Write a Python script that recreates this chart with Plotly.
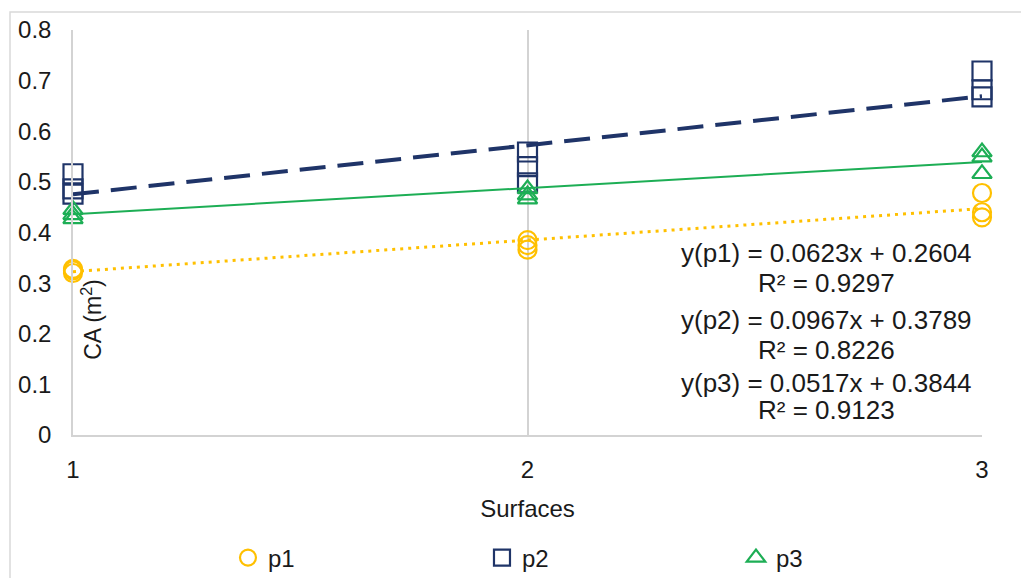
import plotly.graph_objects as go

# ---- data ----
surfaces = [1, 1, 1, 2, 2, 2, 3, 3, 3]
p1 = [0.320, 0.325, 0.328, 0.366, 0.375, 0.385, 0.478, 0.440, 0.430]
p2 = [0.516, 0.486, 0.476, 0.559, 0.530, 0.498, 0.719, 0.682, 0.668]
p3 = [0.445, 0.435, 0.427, 0.486, 0.474, 0.466, 0.559, 0.549, 0.516]

series_names = ["p1", "p2", "p3"]
slopes = [0.0623, 0.0967, 0.0517]
intercepts = [0.2604, 0.3789, 0.3844]
r2 = [0.9297, 0.8226, 0.9123]

x_ticks = [1, 2, 3]
y_ticks = [0, 0.1, 0.2, 0.3, 0.4, 0.5, 0.6, 0.7, 0.8]
y_tick_text = ["0", "0.1", "0.2", "0.3", "0.4", "0.5", "0.6", "0.7", "0.8"]

# ---- styles ----
colors = ["#FFC000", "#1F3468", "#1DAE55"]
symbols = ["circle-open", "square-open", "triangle-up-open"]
msizes = [18, 19, 17]
line_styles = [dict(width=3, dash="3px,5px"), dict(width=4, dash="26px,12px"), dict(width=2, dash="solid")]
FONT = "Liberation Sans, Arial, sans-serif"
TXT = "#1a1a1a"

fig = go.Figure()
values = [p1, p2, p3]

for name, vals, c, s, ms in zip(series_names, values, colors, symbols, msizes):
    fig.add_trace(go.Scatter(
        x=surfaces, y=vals, mode="markers", name=name,
        marker=dict(symbol=s, size=ms, color=c, line=dict(width=2.2, color=c)),
        cliponaxis=False,
    ))

x_line = [min(x_ticks), max(x_ticks)]
for name, a, b, c, ls in zip(series_names, slopes, intercepts, colors, line_styles):
    fig.add_trace(go.Scatter(
        x=x_line, y=[a * xv + b for xv in x_line], mode="lines",
        line=dict(color=c, **ls), showlegend=False, hoverinfo="skip",
        cliponaxis=False,
    ))

# equation annotations
eq_y = [(0.3595, 0.300), (0.227, 0.168), (0.1027, 0.0494)]
for name, a, b, r, (ye, yr) in zip(series_names, slopes, intercepts, r2, eq_y):
    fig.add_annotation(x=2.657, y=ye, xref="x", yref="y", showarrow=False,
                       text=f"y({name}) = {a:.4f}x + {b:.4f}",
                       font=dict(family=FONT, size=26, color=TXT))
    fig.add_annotation(x=2.657, y=yr, xref="x", yref="y", showarrow=False,
                       text=f"R² = {r:.4f}",
                       font=dict(family=FONT, size=26, color=TXT))

# y axis title placed inside the plot
fig.add_annotation(x=1.04, y=0.228, xref="x", yref="y", showarrow=False,
                   text="CA (m<sup>2</sup>)", textangle=-90,
                   font=dict(family=FONT, size=23, color=TXT))

# outer border
fig.add_shape(type="rect", xref="paper", yref="paper",
              x0=-0.0693, x1=1.06, y0=-0.40, y1=1.0444,
              line=dict(color="#D9D9D9", width=1.5), layer="below")

fig.update_layout(
    width=1021, height=578,
    margin=dict(l=73, r=39, t=30, b=143, autoexpand=False),
    paper_bgcolor="white", plot_bgcolor="white",
    font=dict(family=FONT, size=24, color=TXT),
    showlegend=True,
    legend=dict(orientation="h", x=0.1705, y=-0.3037, xanchor="left", yanchor="middle",
                entrywidth=209, entrywidthmode="pixels", itemwidth=30,
                font=dict(family=FONT, size=24, color=TXT), bgcolor="rgba(0,0,0,0)"),
    xaxis=dict(range=[1, 3], tickvals=x_ticks, ticktext=[str(v) for v in x_ticks],
               showgrid=True, gridcolor="#D3D3D3", gridwidth=1.5,
               showline=True, linecolor="#D3D3D3", linewidth=1.5,
               zeroline=False, ticks="", ticklabelstandoff=12, automargin=False,
               title=dict(text="Surfaces", standoff=19, font=dict(family=FONT, size=24, color=TXT)),
               tickfont=dict(family=FONT, size=24, color=TXT)),
    yaxis=dict(range=[0, 0.8], tickvals=y_ticks, ticktext=y_tick_text,
               showgrid=False, zeroline=False,
               showline=True, linecolor="#D3D3D3", linewidth=1.5,
               ticks="", ticklabelstandoff=15, automargin=False,
               tickfont=dict(family=FONT, size=24, color=TXT)),
)

fig.write_html("out.html")
